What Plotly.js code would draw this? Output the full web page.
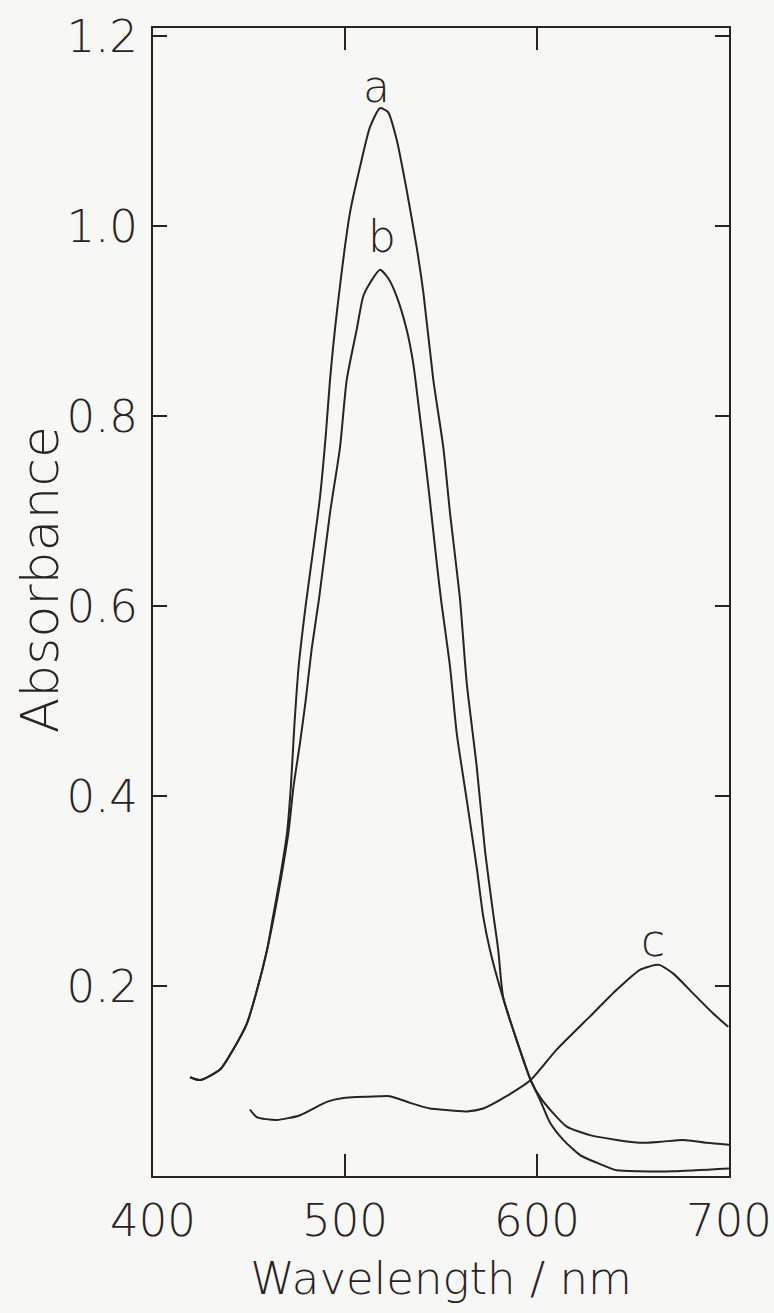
<!DOCTYPE html>
<html>
<head>
<meta charset="utf-8">
<script src="https://cdn.plot.ly/plotly-3.0.1.min.js"></script>
<style>
  html, body { margin: 0; padding: 0; background: #f7f7f5; }
  #chart { width: 774px; height: 1313px; }
</style>
</head>
<body>
<div id="chart"></div>
<script>
// Absorption spectra a, b and c (wavelength in nm, absorbance)
const waveA = [419.3, 424.5, 434.9, 441.7, 449.0, 454.2, 459.4, 462.5, 466.0, 469.8, 471.8, 473.5, 475.8, 479.5, 483.5, 487.0, 490.0, 492.2, 495.7, 502.6, 507.8, 513.0, 518.2, 522.4, 526.9, 532.1, 537.3, 540.8, 546.0, 551.2, 554.7, 559.9, 563.4, 568.6, 572.9, 576.8, 579.8, 582.4, 589.4, 596.7, 601.6, 608.5, 615.5, 627.6, 641.5, 653.6, 664.1, 676.2, 688.4, 700.0];
const absA  = [0.104, 0.101, 0.112, 0.133, 0.161, 0.196, 0.238, 0.273, 0.312, 0.361, 0.410, 0.470, 0.535, 0.600, 0.660, 0.715, 0.780, 0.838, 0.908, 1.014, 1.062, 1.104, 1.124, 1.120, 1.091, 1.038, 0.978, 0.930, 0.838, 0.767, 0.698, 0.607, 0.519, 0.431, 0.343, 0.282, 0.238, 0.188, 0.143, 0.101, 0.083, 0.066, 0.052, 0.043, 0.038, 0.035, 0.036, 0.038, 0.035, 0.033];

const waveB = [419.3, 424.5, 434.9, 441.7, 449.0, 454.2, 459.4, 463.0, 466.8, 470.5, 473.2, 476.5, 479.5, 482.6, 486.5, 492.2, 497.4, 500.9, 506.1, 509.5, 513.0, 518.2, 522.5, 526.9, 532.1, 535.5, 538.8, 541.0, 544.0, 547.8, 550.0, 554.7, 558.2, 563.4, 568.6, 572.0, 575.5, 581.5, 589.4, 596.7, 601.6, 606.8, 613.7, 622.4, 631.1, 641.5, 653.6, 671.0, 700.0];
const absB  = [0.104, 0.101, 0.112, 0.133, 0.161, 0.196, 0.238, 0.273, 0.315, 0.361, 0.410, 0.455, 0.500, 0.554, 0.608, 0.698, 0.767, 0.838, 0.891, 0.926, 0.940, 0.954, 0.945, 0.926, 0.891, 0.856, 0.803, 0.767, 0.715, 0.645, 0.607, 0.536, 0.466, 0.396, 0.325, 0.273, 0.238, 0.193, 0.143, 0.101, 0.080, 0.056, 0.038, 0.022, 0.014, 0.006, 0.005, 0.005, 0.008];

const waveC = [450.5, 454.0, 464.4, 476.6, 490.5, 499.1, 518.2, 523.4, 533.9, 544.3, 549.5, 563.4, 572.0, 584.1, 596.7, 610.2, 627.6, 641.5, 653.6, 661.5, 664.1, 671.0, 681.4, 691.8, 699.6];
const absC  = [0.070, 0.062, 0.059, 0.064, 0.078, 0.082, 0.084, 0.084, 0.077, 0.071, 0.070, 0.068, 0.071, 0.084, 0.101, 0.133, 0.168, 0.196, 0.217, 0.222, 0.222, 0.213, 0.192, 0.171, 0.157];

// Curve letters and where they sit
const curveLabels = ['a', 'b', 'c'];
const labelWave   = [516.5, 519.1, 660.6];
const labelAbs    = [1.147, 0.989, 0.248];

const xTicks = [400, 500, 600, 700];
const yTicks = [0.2, 0.4, 0.6, 0.8, 1.0, 1.2];
const yTickText = ['0.2', '0.4', '0.6', '0.8', '1.0', '1.2'];

const xTitle = 'Wavelength / nm';
const yTitle = 'Absorbance';

const ink = '#2a2325';
const fontFamily = '"DejaVu Sans", "Liberation Sans", sans-serif';
const thinFont = (size) => ({ family: fontFamily, size: size, color: ink, weight: 200 });

function spectrum(x, y, name) {
  return {
    x: x, y: y, name: name, type: 'scatter', mode: 'lines',
    line: { color: ink, width: 2, shape: 'spline', smoothing: 0.6 },
    hoverinfo: 'x+y+name'
  };
}

const traces = [
  spectrum(waveA, absA, 'a'),
  spectrum(waveB, absB, 'b'),
  spectrum(waveC, absC, 'c')
];

const annotations = curveLabels.map((t, i) => ({
  x: labelWave[i], y: labelAbs[i], xref: 'x', yref: 'y',
  text: t, showarrow: false, font: thinFont(44)
}));

// Vertical axis caption, set a little above the middle of the frame
annotations.push({
  x: -0.196, y: 0.519, xref: 'paper', yref: 'paper',
  xanchor: 'center', yanchor: 'middle',
  text: yTitle, textangle: -90, showarrow: false, font: thinFont(52)
});

const layout = {
  width: 774, height: 1313, autosize: false,
  paper_bgcolor: '#f7f7f5', plot_bgcolor: '#f7f7f5',
  showlegend: false,
  margin: { l: 153, r: 45, t: 28, b: 137 },
  font: { family: fontFamily, color: ink, weight: 200 },
  xaxis: {
    range: [400, 700], tickvals: xTicks,
    ticks: 'inside', ticklen: 22, tickwidth: 2, tickcolor: ink,
    showline: true, linewidth: 2, linecolor: ink, mirror: 'ticks',
    showgrid: false, zeroline: false,
    ticklabelstandoff: 4,
    tickfont: thinFont(45),
    title: { text: xTitle, standoff: 16, font: thinFont(45) }
  },
  yaxis: {
    range: [0, 1.2084], tickvals: yTicks, ticktext: yTickText,
    ticks: 'inside', ticklen: 14, tickwidth: 2, tickcolor: ink,
    showline: true, linewidth: 2, linecolor: ink, mirror: 'ticks',
    showgrid: false, zeroline: false,
    ticklabelstandoff: 4,
    tickfont: thinFont(45)
  },
  annotations: annotations
};

Plotly.newPlot('chart', traces, layout, { staticPlot: true, displayModeBar: false });
</script>
</body>
</html>
